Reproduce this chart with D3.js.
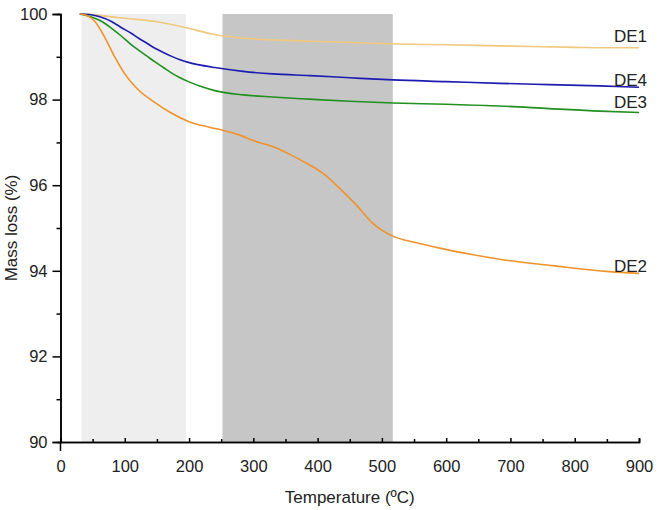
<!DOCTYPE html>
<html>
<head>
<meta charset="utf-8">
<script src="https://cdn.jsdelivr.net/npm/d3@7"></script>
<style>
body { margin:0; background:white; }
text { font-family: "Liberation Sans", Arial, sans-serif; fill:#222; }
</style>
</head>
<body>
<svg id="chart"></svg>
<script>
// temperatures (ºC) and mass (%)
var tempDE1 = [30,50,70,100,150,180,200,240,280,340,420,520,600,700,800,850,900]
var massDE1 = [100,99.99,99.95,99.9,99.82,99.73,99.66,99.52,99.44,99.39,99.35,99.3,99.28,99.25,99.22,99.21,99.21]

var tempDE4 = [30,45,60,80,95,110,121,135,147,160,173,186,199,220,240,284,330,388,450,517,600,683,760,839,900]
var massDE4 = [100,99.99,99.94,99.82,99.68,99.55,99.44,99.31,99.2,99.1,99.01,98.93,98.87,98.8,98.75,98.66,98.6,98.56,98.51,98.46,98.42,98.38,98.35,98.32,98.29]

var tempDE3 = [30,48,65,80,95,108,121,134,147,160,173,186,199,220,240,284,330,388,450,517,600,683,760,839,900]
var massDE3 = [100,99.93,99.82,99.66,99.48,99.31,99.16,99.02,98.88,98.75,98.62,98.51,98.42,98.3,98.21,98.11,98.06,98.01,97.96,97.92,97.89,97.85,97.79,97.73,97.7]

var tempDE2 = [30,40,54,69,85,100,121,147,173,199,230,251,279,302,331,357,383,408,434,460,486,517,540,564,590,640,683,766,854,900]
var massDE2 = [100,99.97,99.82,99.45,98.98,98.6,98.23,97.93,97.68,97.49,97.36,97.29,97.17,97.03,96.9,96.72,96.51,96.28,95.93,95.54,95.11,94.81,94.7,94.62,94.53,94.38,94.27,94.12,93.98,93.94]

var seriesNames = ["DE1","DE4","DE3","DE2"]
var shadeLight = [33,195]
var shadeDark = [252,517]
var xTicks = [0,100,200,300,400,500,600,700,800,900]
var yTicks = [90,92,94,96,98,100]

var screen = {width:661,height:510}
var margins = {left:60.5,right:22,top:14,bottom:68}
var graph = {
    width:screen.width-margins.left-margins.right,
    height:screen.height-margins.top-margins.bottom
}

var svg = d3.select("#chart")
    .attr("width",screen.width)
    .attr("height",screen.height)

var target = svg.append("g")
    .attr("transform","translate("+margins.left+","+margins.top+")")

var xScale = d3.scaleLinear().domain([0,900]).range([0,graph.width])
var yScale = d3.scaleLinear().domain([90,100]).range([graph.height,0])

// shaded temperature ranges
target.append("rect")
    .attr("x",xScale(shadeLight[0]))
    .attr("width",xScale(shadeLight[1])-xScale(shadeLight[0]))
    .attr("y",yScale(100))
    .attr("height",yScale(90)-yScale(100))
    .attr("fill","#eeeeee")
target.append("rect")
    .attr("x",xScale(shadeDark[0]))
    .attr("width",xScale(shadeDark[1])-xScale(shadeDark[0]))
    .attr("y",yScale(100))
    .attr("height",yScale(90)-yScale(100))
    .attr("fill","#c6c6c6")

var series = [
    {name:seriesNames[0],temp:tempDE1,mass:massDE1,color:"#f0c87e",dy:-6},
    {name:seriesNames[1],temp:tempDE4,mass:massDE4,color:"#1c1cb0",dy:-1},
    {name:seriesNames[2],temp:tempDE3,mass:massDE3,color:"#21901f",dy:-4},
    {name:seriesNames[3],temp:tempDE2,mass:massDE2,color:"#f0922a",dy:-1}
]

var line = d3.line()
    .x(function(d){ return xScale(d[0])})
    .y(function(d){ return yScale(d[1])})
    .curve(d3.curveMonotoneX)

series.forEach(function(s)
{
    var pts = s.temp.map(function(t,i){ return [t,s.mass[i]] })
    target.append("path")
        .datum(pts)
        .attr("fill","none")
        .attr("stroke",s.color)
        .attr("stroke-width",1.6)
        .attr("d",line)
    target.append("text")
        .text(s.name)
        .attr("text-anchor","end")
        .attr("x",xScale(900)+8)
        .attr("y",yScale(s.mass[s.mass.length-1])+s.dy)
        .style("font-size","17px")
})

// y axis
var yAxis = d3.axisLeft(yScale).tickValues(yTicks).tickSize(8).tickPadding(5)
    .tickFormat(d3.format("d"))
var yMinor = d3.axisLeft(yScale).tickValues([91,93,95,97,99]).tickSize(4).tickFormat("")
target.append("g").call(yMinor)
var yg = target.append("g").call(yAxis)

// x axis with ticks pointing in
var xAxis = d3.axisBottom(xScale).tickValues(xTicks).tickSize(-4).tickPadding(18)
var xMinor = d3.axisBottom(xScale).tickValues([50,150,250,350,450,550,650,750,850]).tickSize(-3).tickFormat("")
var xg = target.append("g").attr("transform","translate(0,"+graph.height+")").call(xAxis)
target.append("g").attr("transform","translate(0,"+graph.height+")").call(xMinor)

target.selectAll(".domain").attr("stroke","#000").attr("stroke-width",1.5)
target.selectAll(".tick line").attr("stroke","#000").attr("stroke-width",1.5)
target.selectAll(".tick text").style("font-size","16.5px").attr("fill","#222")
// corner extension of the frame
target.append("line").attr("x1",0).attr("x2",0)
    .attr("y1",graph.height).attr("y2",graph.height+9)
    .attr("stroke","#000").attr("stroke-width",1.5)

// axis titles
svg.append("text")
    .text("Temperature (ºC)")
    .attr("text-anchor","middle")
    .attr("x",margins.left+graph.width/2)
    .attr("y",503)
    .style("font-size","17px")
svg.append("g")
    .attr("transform","translate(17,"+(margins.top+graph.height/2)+")")
    .append("text")
    .text("Mass loss (%)")
    .attr("text-anchor","middle")
    .attr("transform","rotate(-90)")
    .style("font-size","17px")
</script>
</body>
</html>
